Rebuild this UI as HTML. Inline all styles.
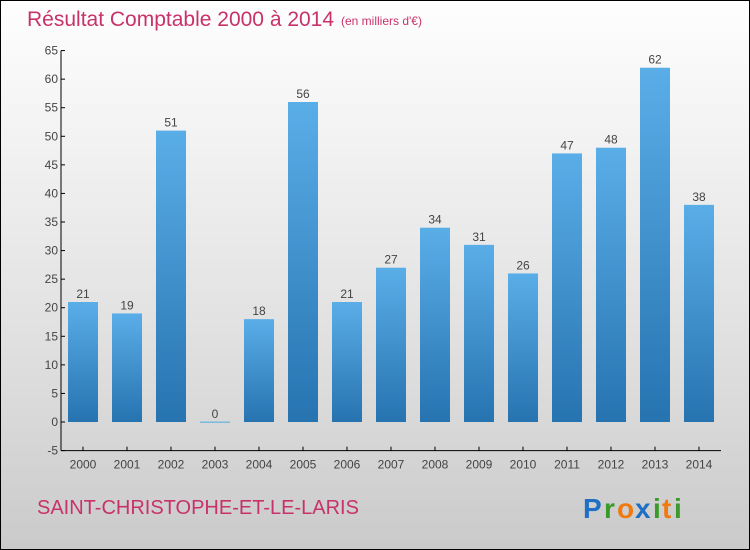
<!DOCTYPE html>
<html><head><meta charset="utf-8"><style>
html,body{margin:0;padding:0;}
body{width:750px;height:550px;overflow:hidden;font-family:"Liberation Sans",sans-serif;}
#wrap{position:relative;width:748px;height:548px;border:1px solid #000;background:linear-gradient(#fefefe,#f0f0f0 30%,#dcdcdc 70%,#cacaca);}
</style></head><body>
<div id="wrap">
<svg width="748" height="548" style="position:absolute;left:0;top:0">
<defs><linearGradient id="bg" x1="0" y1="0" x2="0" y2="1"><stop offset="0" stop-color="#5aaee8"/><stop offset="1" stop-color="#2673b0"/></linearGradient></defs>
<text x="26" y="25" font-size="21" fill="#c8326a">Résultat Comptable 2000 à 2014</text>
<text x="340" y="24" font-size="12" fill="#c8326a">(en milliers d'€)</text>
<g id="plot"></g>
<text x="36" y="513" font-size="20" fill="#c8326a">SAINT-CHRISTOPHE-ET-LE-LARIS</text>
<g font-size="28" font-weight="bold" font-family="Liberation Sans, sans-serif">
<text x="582" y="517" fill="#1f6fc4">P</text><text x="603" y="517" fill="#3a9a2a">r</text><text x="616" y="517" fill="#f07a10">o</text><text x="634" y="517" fill="#1f6fc4">x</text><text x="652" y="517" fill="#3a9a2a">i</text><text x="661" y="517" fill="#f07a10">t</text><text x="673" y="517" fill="#3a9a2a">i</text></g>
</svg></div>
<script>
const categories=["2000","2001","2002","2003","2004","2005","2006","2007","2008","2009","2010","2011","2012","2013","2014"];
const values=[21,19,51,0,18,56,21,27,34,31,26,47,48,62,38];
const yTicks=[-5,0,5,10,15,20,25,30,35,40,45,50,55,60,65];
const NS="http://www.w3.org/2000/svg";
const g=document.getElementById('plot');
const y0=421,unit=400/70,x0=60,step=44;
const yS=v=>y0-v*unit;
const xS=i=>x0+22+i*step;
function mk(t,a,txt){const e=document.createElementNS(NS,t);for(const k in a)e.setAttribute(k,a[k]);if(txt!==undefined)e.textContent=txt;g.appendChild(e);return e;}
let ax=mk('line',{x1:x0,y1:yS(65),x2:x0,y2:yS(-5),stroke:'#000'});


let bx=mk('line',{x1:x0,y1:yS(-5),x2:720,y2:yS(-5),stroke:'#000'});


yTicks.forEach(t=>{
 mk('line',{x1:x0,y1:yS(t),x2:x0+4,y2:yS(t),stroke:'#000'});
 let l=mk('text',{x:x0-3,y:yS(t)+4,'font-size':12,fill:'#444','text-anchor':'end'},String(t));
 
 
});
categories.forEach((c,i)=>{
 const cx=xS(i),v=values[i];
 mk('line',{x1:cx,y1:yS(-5),x2:cx,y2:yS(-5)-4,stroke:'#000'});
 let l=mk('text',{x:cx,y:yS(-5)+18,'font-size':12,fill:'#444','text-anchor':'middle'},c);
 
 
 const top=yS(Math.max(v,0)),h=Math.max(Math.abs(yS(v)-yS(0)),1.5);
 let b=mk('rect',{x:cx-15,y:v===0?yS(0)-0.5:top,width:30,height:h,fill:v===0?'#7ab8e0':'url(#bg)'});
 
 
 let vl=mk('text',{x:cx,y:top-4,'font-size':12,fill:'#444','text-anchor':'middle'},String(v));
 
 
});
</script>
</body></html>
